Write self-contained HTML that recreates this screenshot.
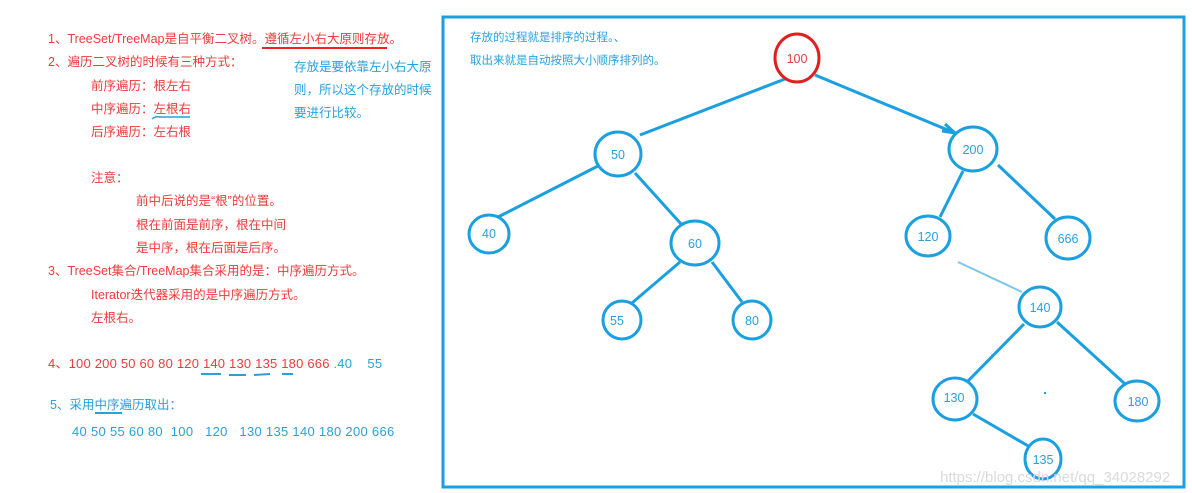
<!DOCTYPE html>
<html><head><meta charset="utf-8"><style>
body{margin:0;width:1192px;height:493px;background:#fff;position:relative;overflow:hidden;font-family:"Liberation Sans","Noto Sans CJK SC",sans-serif;}
.t{position:absolute;font-size:12.5px;white-space:nowrap;line-height:16px}
.r{color:#ee3b3b}.b{color:#27a0df}
svg{position:absolute;left:0;top:0}
</style></head><body>
<div class="t r" style="left:48px;top:31px">1、TreeSet/TreeMap是自平衡二叉树。遵循左小右大原则存放。</div>
<div class="t r" style="left:48px;top:54px">2、遍历二叉树的时候有三种方式：</div>
<div class="t r" style="left:91px;top:78px">前序遍历：根左右</div>
<div class="t r" style="left:91px;top:101px">中序遍历：左根右</div>
<div class="t r" style="left:91px;top:124px">后序遍历：左右根</div>
<div class="t r" style="left:91px;top:170px">注意：</div>
<div class="t r" style="left:136px;top:193px">前中后说的是“根”的位置。</div>
<div class="t r" style="left:136px;top:217px">根在前面是前序，根在中间</div>
<div class="t r" style="left:136px;top:240px">是中序，根在后面是后序。</div>
<div class="t r" style="left:48px;top:263px">3、TreeSet集合/TreeMap集合采用的是：中序遍历方式。</div>
<div class="t r" style="left:91px;top:287px">Iterator迭代器采用的是中序遍历方式。</div>
<div class="t r" style="left:91px;top:310px">左根右。</div>
<div class="t r" style="left:48px;top:356px;font-size:13px;letter-spacing:0.2px">4、100 200 50 60 80 120 140 130 135 180 666 <span class="b">.40 &nbsp;&nbsp;&nbsp;55</span></div>
<div class="t b" style="left:50px;top:397px">5、采用中序遍历取出：</div>
<div class="t b" style="left:72px;top:424px;font-size:13px;letter-spacing:0.3px">40 50 55 60 80 &nbsp;100 &nbsp;&nbsp;120 &nbsp;&nbsp;130 135 140 180 200 666</div>
<div class="t b" style="left:294px;top:59px">存放是要依靠左小右大原</div>
<div class="t b" style="left:294px;top:82px">则，所以这个存放的时候</div>
<div class="t b" style="left:294px;top:105px">要进行比较。</div>
<div class="t b" style="left:470px;top:30px;font-size:11.5px">存放的过程就是排序的过程。、</div>
<div class="t b" style="left:470px;top:53px;font-size:11.5px">取出来就是自动按照大小顺序排列的。</div>
<svg width="1192" height="493" font-family="Liberation Sans, sans-serif" font-size="12.5">
<line x1="262" y1="48" x2="387" y2="48" stroke="#ee2222" stroke-width="2"/>
<path d="M152 119 q3 -3 8 -2 L190 117" stroke="#27a0df" stroke-width="1.5" fill="none"/>
<g stroke="#27a0df" stroke-width="2"><line x1="201" y1="374" x2="221" y2="374"/><line x1="229" y1="375" x2="246" y2="375"/><line x1="254" y1="375" x2="270" y2="374"/><line x1="282" y1="374" x2="293" y2="374"/><line x1="95" y1="413" x2="122" y2="413"/></g>
<rect x="443" y="17" width="741" height="470" fill="none" stroke="#1a9fe0" stroke-width="3"/>
<g stroke="#1a9fe0" stroke-width="3" fill="none">
<line x1="785" y1="79" x2="640" y2="135"/>
<line x1="815" y1="75" x2="955" y2="133"/>
<polyline points="945,124 955,133 942,131"/>
<line x1="598" y1="166" x2="498" y2="217"/>
<line x1="635" y1="173" x2="682" y2="225"/>
<line x1="680" y1="262" x2="632" y2="303"/>
<line x1="712" y1="262" x2="742" y2="302"/>
<line x1="963" y1="171" x2="940" y2="217"/>
<line x1="998" y1="165" x2="1055" y2="219"/>
<line x1="1024" y1="324" x2="968" y2="381"/>
<line x1="1057" y1="322" x2="1125" y2="384"/>
<line x1="973" y1="414" x2="1030" y2="447"/>
</g>
<line x1="958" y1="262" x2="1022" y2="292" stroke="#7cc6ea" stroke-width="2"/>
<g stroke="#1a9fe0" stroke-width="3" fill="#fff">
<ellipse cx="618" cy="154" rx="23" ry="22"/>
<ellipse cx="973" cy="149" rx="24" ry="22"/>
<ellipse cx="489" cy="234" rx="20" ry="19"/>
<ellipse cx="695" cy="243" rx="24" ry="22"/>
<ellipse cx="928" cy="236" rx="22" ry="20"/>
<ellipse cx="1068" cy="238" rx="22" ry="21"/>
<ellipse cx="622" cy="320" rx="19" ry="19"/>
<ellipse cx="752" cy="320" rx="19" ry="19"/>
<ellipse cx="1040" cy="307" rx="21" ry="20"/>
<ellipse cx="955" cy="399" rx="22" ry="21"/>
<ellipse cx="1137" cy="401" rx="22" ry="20"/>
<ellipse cx="1043" cy="459" rx="18" ry="20"/>
</g>
<ellipse cx="797" cy="58" rx="22" ry="24" stroke="#e02020" stroke-width="3" fill="#fff"/>
<g fill="#27a0df" text-anchor="middle">
<text x="618" y="159">50</text><text x="973" y="154">200</text><text x="489" y="238">40</text>
<text x="695" y="248">60</text><text x="928" y="241">120</text><text x="1068" y="243">666</text>
<text x="617" y="325">55</text><text x="752" y="325">80</text><text x="1040" y="312">140</text>
<text x="954" y="402">130</text><text x="1138" y="406">180</text><text x="1043" y="464">135</text>
</g>
<text x="797" y="63" fill="#ee3b3b" text-anchor="middle">100</text>
<rect x="1044" y="392" width="2" height="2" fill="#1a9fe0"/>
<text x="940" y="482" fill="#dadada" font-size="15">https://blog.csdn.net/qq_34028292</text>
</svg>
</body></html>
